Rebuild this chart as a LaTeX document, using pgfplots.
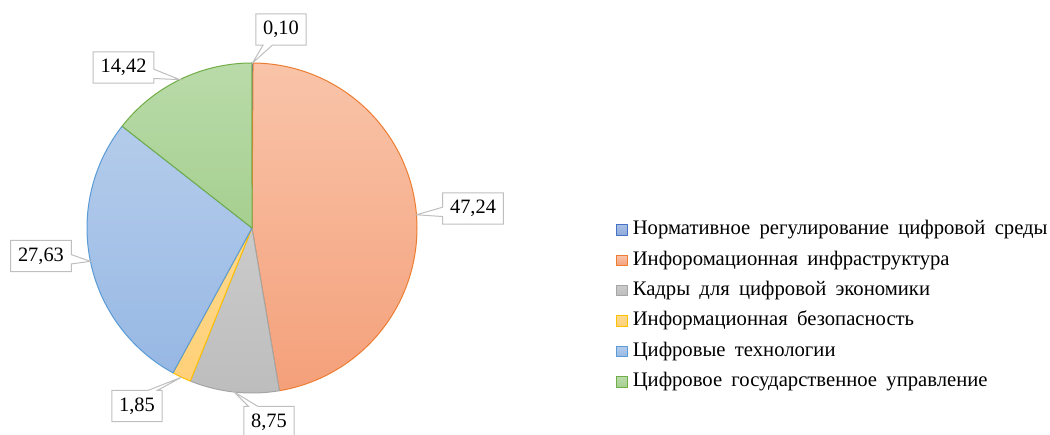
\documentclass[border=0pt]{standalone}
\usepackage{pgfplots}
\usepackage{pgfplotstable}
\pgfplotsset{compat=1.18}
\usepackage{fontspec}
\setmainfont{Liberation Serif}
\usetikzlibrary{shapes.callouts}

\definecolor{lnA}{HTML}{4472C4}
\definecolor{lnB}{HTML}{ED7D31}
\definecolor{lnC}{HTML}{A5A5A5}
\definecolor{lnD}{HTML}{FFC000}
\definecolor{lnE}{HTML}{5B9BD5}
\definecolor{lnF}{HTML}{70AD47}
\definecolor{tpA}{HTML}{A9BEE4}\definecolor{btA}{HTML}{8FAADC}
\definecolor{tpB}{HTML}{F9C4A9}\definecolor{btB}{HTML}{F4A07A}
\definecolor{tpC}{HTML}{CBCBCB}\definecolor{btC}{HTML}{BDBDBD}
\definecolor{tpD}{HTML}{FFD98E}\definecolor{btD}{HTML}{FFD078}
\definecolor{tpE}{HTML}{B4CCEB}\definecolor{btE}{HTML}{97B8E4}
\definecolor{tpF}{HTML}{B9DBA9}\definecolor{btF}{HTML}{A6CF90}

\pgfplotstableread{
value
0.10
47.24
8.75
1.85
27.63
14.42
}\piedata

\newcommand\getval[2]{\pgfplotstablegetelem{#1}{value}\of\piedata\let#2\pgfplotsretval}
\newcommand\lt[1]{{\spaceskip=0.45em plus 0.1em\relax #1}}

\tikzset{lbl/.style={rectangle callout, draw=black!25, fill=white, line width=0.75pt,
  font=\fontsize{15.3}{18}\selectfont, inner xsep=5.5pt, minimum height=23.5pt,
  callout pointer width=7pt}}

\begin{document}
\begin{tikzpicture}
\getval{0}\vA \getval{1}\vB \getval{2}\vC \getval{3}\vD \getval{4}\vE \getval{5}\vF
\pgfmathsetmacro\T{\vA+\vB+\vC+\vD+\vE+\vF}
\pgfmathsetmacro\aA{90}
\pgfmathsetmacro\aB{\aA-\vA/\T*360}
\pgfmathsetmacro\aC{\aB-\vB/\T*360}
\pgfmathsetmacro\aD{\aC-\vC/\T*360}
\pgfmathsetmacro\aE{\aD-\vD/\T*360}
\pgfmathsetmacro\aF{\aE-\vE/\T*360}
\pgfmathsetmacro\aG{\aF-\vF/\T*360}
\pgfmathsetmacro\mA{(\aA+\aB)/2}
\pgfmathsetmacro\mB{(\aB+\aC)/2}
\pgfmathsetmacro\mC{(\aC+\aD)/2}
\pgfmathsetmacro\mD{(\aD+\aE)/2}
\pgfmathsetmacro\mE{(\aE+\aF)/2}
\pgfmathsetmacro\mF{(\aF+\aG)/2}
\def\cx{252}\def\cy{207}\def\R{165}
\useasboundingbox (0,0) rectangle (787.5pt,326.25pt);
\begin{axis}[
  at={(0,0)}, anchor=south west,
  x=0.75pt, y=0.75pt,
  xmin=0, xmax=1050, ymin=0, ymax=435,
  hide axis, clip=false,
  samples=200,
  legend style={at={(axis description cs:0.5867,0.2966)}, anchor=west,
    draw=none, fill=none, inner sep=0pt, row sep=9.8pt, column sep=3.8pt,
    font=\fontsize{15.5}{18}\selectfont, cells={anchor=west},
    nodes={inner sep=0pt, text height=10pt, text depth=3pt}},
  legend image code/.code={\draw[#1, line width=0.75pt] (0pt,-3.9pt) rectangle (7.8pt,3.9pt);},
]
\addplot[draw=lnA, line width=0.75pt, line join=round, top color=tpA, bottom color=btA, domain=\aB:\aA]
  ({\cx+\R*cos(x)},{\cy+\R*sin(x)}) -- (axis cs:\cx,\cy) -- cycle;
\addlegendentry{\lt{Нормативное регулирование цифровой среды}}
\addplot[draw=lnB, line width=0.75pt, line join=round, top color=tpB, bottom color=btB, domain=\aC:\aB]
  ({\cx+\R*cos(x)},{\cy+\R*sin(x)}) -- (axis cs:\cx,\cy) -- cycle;
\addlegendentry{\lt{Инфоромационная инфраструктура}}
\addplot[draw=lnC, line width=0.75pt, line join=round, top color=tpC, bottom color=btC, domain=\aD:\aC]
  ({\cx+\R*cos(x)},{\cy+\R*sin(x)}) -- (axis cs:\cx,\cy) -- cycle;
\addlegendentry{\lt{Кадры для цифровой экономики}}
\addplot[draw=lnD, line width=0.75pt, line join=round, top color=tpD, bottom color=btD, domain=\aE:\aD]
  ({\cx+\R*cos(x)},{\cy+\R*sin(x)}) -- (axis cs:\cx,\cy) -- cycle;
\addlegendentry{\lt{Информационная безопасность}}
\addplot[draw=lnE, line width=0.75pt, line join=round, top color=tpE, bottom color=btE, domain=\aF:\aE]
  ({\cx+\R*cos(x)},{\cy+\R*sin(x)}) -- (axis cs:\cx,\cy) -- cycle;
\addlegendentry{\lt{Цифровые технологии}}
\addplot[draw=lnF, line width=0.75pt, line join=round, top color=tpF, bottom color=btF, domain=\aG:\aF]
  ({\cx+\R*cos(x)},{\cy+\R*sin(x)}) -- (axis cs:\cx,\cy) -- cycle;
\addlegendentry{\lt{Цифровое государственное управление}}

\coordinate (tA) at (axis cs:{\cx+\R*cos(\mA)},{\cy+\R*sin(\mA)});
\coordinate (tB) at (axis cs:{\cx+\R*cos(\mB)},{\cy+\R*sin(\mB)});
\coordinate (tC) at (axis cs:{\cx+\R*cos(\mC)},{\cy+\R*sin(\mC)});
\coordinate (tD) at (axis cs:{\cx+\R*cos(\mD)},{\cy+\R*sin(\mD)});
\coordinate (tE) at (axis cs:{\cx+\R*cos(\mE)},{\cy+\R*sin(\mE)});
\coordinate (tF) at (axis cs:{\cx+\R*cos(\mF)},{\cy+\R*sin(\mF)});
\coordinate (bA) at (axis cs:281,405.5);
\coordinate (bB) at (axis cs:473,226.5);
\coordinate (bC) at (axis cs:269,13);
\coordinate (bD) at (axis cs:137,29);
\coordinate (bE) at (axis cs:41,179);
\coordinate (bF) at (axis cs:123.5,367.5);
\end{axis}
\node[lbl, callout absolute pointer={(tA)}] at (bA) {0,10};
\node[lbl, callout absolute pointer={(tB)}] at (bB) {47,24};
\node[lbl, callout absolute pointer={(tC)}] at (bC) {8,75};
\node[lbl, callout absolute pointer={(tD)}] at (bD) {1,85};
\node[lbl, callout absolute pointer={(tE)}] at (bE) {27,63};
\node[lbl, callout absolute pointer={(tF)}] at (bF) {14,42};
\end{tikzpicture}
\end{document}
